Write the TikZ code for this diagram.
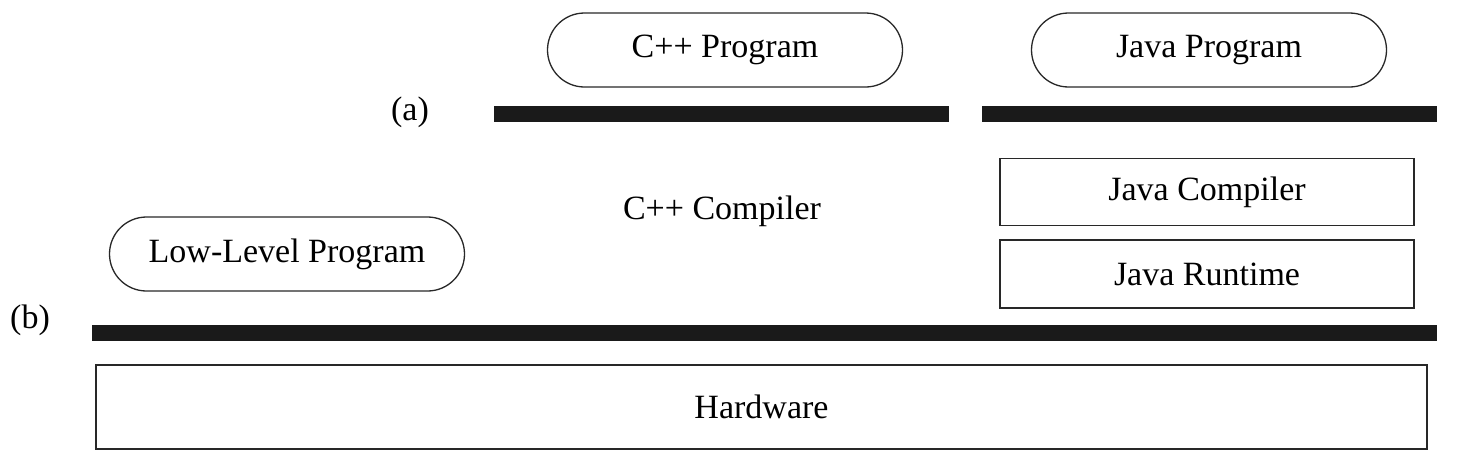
\documentclass[tikz,border=0pt]{standalone}
\usepackage{fontspec}
\setmainfont{Liberation Serif}
\usetikzlibrary{positioning, shapes.misc}
\definecolor{barblack}{RGB}{26,26,26}
\definecolor{edgegray}{RGB}{40,40,40}

\begin{document}
\begin{tikzpicture}[x=1pt, y=-1pt, font=\fontsize{34}{40}\selectfont,
  prog/.style={draw=edgegray, rounded rectangle, line width=1.3pt, minimum width=355pt, minimum height=74pt, inner sep=0pt},
  layer/.style={draw=edgegray, rectangle, line width=1.6pt, inner sep=0pt},
  bar/.style={fill=barblack, rectangle, inner sep=0pt, minimum height=16pt}]
  \useasboundingbox (0,0) rectangle (1458,466);

  % top level programs
  \node[prog] (cppprog) at (725,50) {C++ Program};
  \node[prog] (javaprog) at (1209,50) {Java Program};

  % interface (a)
  \node (labela) at (410,112) {(a)};
  \node[bar, minimum width=455pt] (bara1) at (721.5,114) {};
  \node[bar, minimum width=455pt] (bara2) at (1209.5,114) {};

  % translators
  \node (cppcomp) at (722,211) {C++ Compiler};
  \node[layer, minimum width=414pt, minimum height=67pt] (javacomp) at (1207,192) {Java Compiler};
  \node[layer, minimum width=414pt, minimum height=68pt] (javart) at (1207,274) {Java Runtime};
  \node[prog] (lowprog) at (287,254) {Low-Level Program};

  % interface (b)
  \node (labelb) at (30,320) {(b)};
  \node[bar, minimum width=1345pt] (barb) at (764.5,333) {};

  \node[layer, minimum width=1331pt, minimum height=84pt] (hw) at (761.5,407) {Hardware};
\end{tikzpicture}
\end{document}
